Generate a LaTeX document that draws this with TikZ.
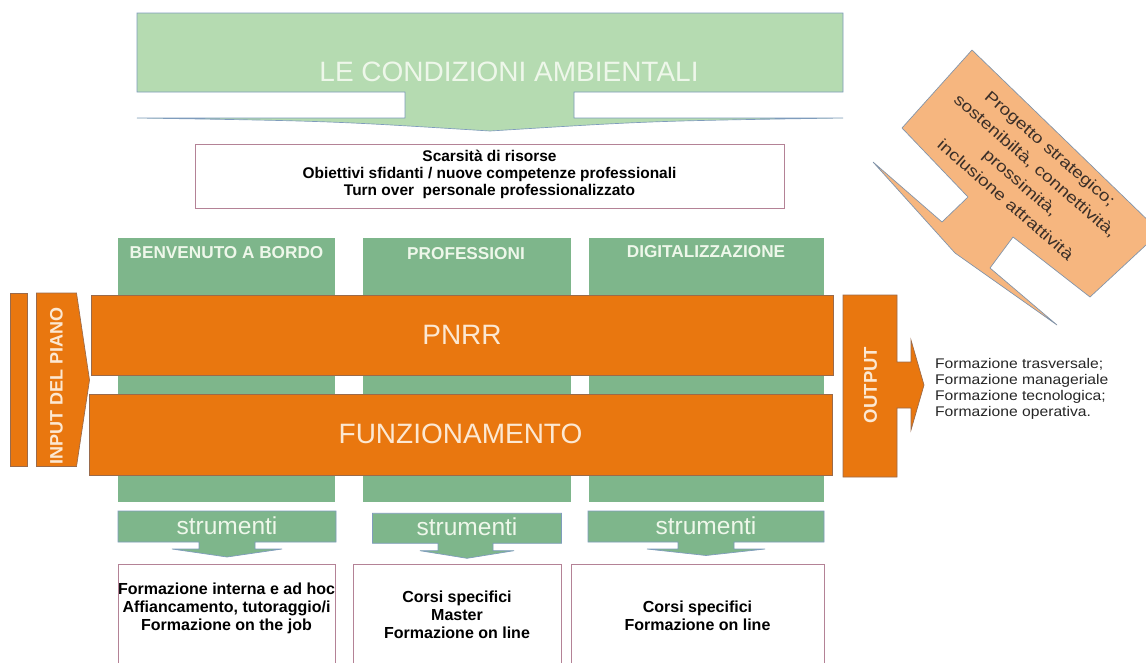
\documentclass[tikz,border=0pt]{standalone}
\usepackage{fontspec}
\setmainfont{Liberation Sans}
\newfontfamily\widesans[FakeStretch=1.12]{Liberation Sans}
\newfontfamily\callfont[FakeStretch=1.2]{Liberation Sans}
\definecolor{bannergreen}{HTML}{B5DBB1}
\definecolor{colgreen}{HTML}{7EB68B}
\definecolor{orangebar}{HTML}{E9770F}
\definecolor{calloutfill}{HTML}{F6B67F}
\definecolor{paletext}{HTML}{EEF7EA}
\definecolor{creamtext}{HTML}{FCE8D2}
\definecolor{boxborder}{HTML}{B48296}
\definecolor{edgeblue}{HTML}{7F9CBC}
\definecolor{orangeedge}{HTML}{9A6A4A}
\definecolor{darktext}{HTML}{3B2F28}
\tikzset{
  lbl/.style={inner sep=0pt, outer sep=0pt},
  colshape/.style={fill=colgreen},
  arrowshape/.style={fill=colgreen, draw=edgeblue, line width=0.5pt},
  orangeshape/.style={fill=orangebar, draw=orangeedge, line width=0.5pt},
  txtbox/.style={draw=boxborder, line width=0.6pt, fill=white},
  hdr/.style={lbl, text=paletext, font=\bfseries\fontsize{12.9}{15}\selectfont},
  bigwhite/.style={lbl, text=creamtext, font=\fontsize{21}{25}\selectfont},
  boxtext/.style={lbl, align=center, text=black, font=\bfseries\fontsize{12}{13.5}\selectfont},
  strtext/.style={lbl, text=paletext, font=\fontsize{18.4}{22}\selectfont},
  vertlbl/.style={lbl, rotate=90, text=creamtext},
}
\begin{document}
\begin{tikzpicture}[x=0.75pt,y=-0.75pt]
\useasboundingbox (0,0) rectangle (1146,662);
\clip (0,0) rectangle (1146,662);
\fill[white] (0,0) rectangle (1146,662);

% top banner arrow
\draw[fill=bannergreen, draw=edgeblue, line width=0.5pt]
  (137,13) -- (843,13) -- (843,92) -- (574,92) -- (574,118) -- (843,118)
  .. controls (650,121) .. (490,131) .. controls (330,121) .. (137,118)
  -- (405,118) -- (405,92) -- (137,92) -- cycle;
\node[lbl, text=paletext, font=\fontsize{21}{25}\selectfont] (cond) at (509,72) {LE CONDIZIONI AMBIENTALI};

% conditions box
\draw[txtbox] (195,144) rectangle (784,208);
\node[boxtext, font=\bfseries\fontsize{11.6}{12.75}\selectfont] (condlist) at (489.5,174)
  {Scarsità di risorse\\Obiettivi sfidanti / nuove competenze professionali\\Turn over\ \ personale professionalizzato};

% green columns
\path[colshape] (118,238) rectangle (335,502);
\path[colshape] (363,238) rectangle (571,502);
\path[colshape] (589,238) rectangle (824,502);
\node[hdr] (h1) at (226.5,253) {BENVENUTO A BORDO};
\node[hdr] (h2) at (466,254) {PROFESSIONI};
\node[hdr] (h3) at (706,252) {DIGITALIZZAZIONE};

% orange bars
\draw[orangeshape] (91,295) rectangle (833,375.5);
\draw[orangeshape] (89.5,394) rectangle (832,475);
\node[bigwhite] (pnrr) at (462,335) {PNRR};
\node[bigwhite] (funz) at (460.5,434) {FUNZIONAMENTO};

% input
\draw[orangeshape] (10,293) rectangle (27.5,466.5);
\draw[orangeshape] (36.5,293) -- (76.5,293) -- (89.5,380) -- (76.5,466.5) -- (36.5,466.5) -- cycle;
\node[vertlbl, font=\bfseries\fontsize{13.5}{16}\selectfont] (input) at (56.5,386) {INPUT DEL PIANO};

% output
\draw[orangeshape] (843,295) -- (897,295) -- (897,362) -- (911,362) -- (911,340) -- (924,385)
  -- (911,430) -- (911,408) -- (897,408) -- (897,477) -- (843,477) -- cycle;
\node[vertlbl, font=\bfseries\fontsize{13.9}{16}\selectfont] (output) at (870.5,385) {OUTPUT};
\node[lbl, anchor=west, align=left, text=black!85, font={\widesans\fontsize{10.5}{12}\selectfont}] (outlist) at (935,389)
  {Formazione trasversale;\\Formazione manageriale\\Formazione tecnologica;\\Formazione operativa.};

% strumenti arrows
\draw[arrowshape] (118,511) -- (336,511) -- (336,542) -- (255,542) -- (255,549) -- (282,549)
  -- (227,557) -- (172,549) -- (199,549) -- (199,542) -- (118,542) -- cycle;
\node[strtext] (s1) at (227,525.5) {strumenti};
\draw[arrowshape] (372.5,513.3) -- (561.5,513.3) -- (561.5,543.3) -- (493,543.3) -- (493,550.7) -- (514,550.7)
  -- (467,558.3) -- (420,550.7) -- (438,550.7) -- (438,543.3) -- (372.5,543.3) -- cycle;
\node[strtext] (s2) at (467,527) {strumenti};
\draw[arrowshape] (588,511) -- (824,511) -- (824,542) -- (734,542) -- (734,549) -- (765,549)
  -- (706,555.5) -- (647,549) -- (678,549) -- (678,542) -- (588,542) -- cycle;
\node[strtext] (s3) at (706,525.5) {strumenti};

% bottom boxes
\draw[txtbox] (118,564) rectangle (335,700);
\draw[txtbox] (353,564) rectangle (561,700);
\draw[txtbox] (571,564) rectangle (824,700);
\node[boxtext] (b1) at (226.5,608.5) {Formazione interna e ad hoc\\Affiancamento, tutoraggio/i\\Formazione on the job};
\node[boxtext] (b2) at (457,615) {Corsi specifici\\Master\\Formazione on line};
\node[boxtext] (b3) at (697.5,616) {Corsi specifici\\Formazione on line};

% callout
\draw[fill=calloutfill, draw=edgeblue!70!gray, line width=0.5pt]
  (972,50) -- (1160,232) -- (1090,297) -- (1013,237) -- (990,268) -- (1057,325) -- (955,253)
  -- (873,162) -- (942,222) -- (968,197) -- (902,128) -- cycle;
\node[lbl, rotate=-41, align=center, text=darktext, font={\callfont\fontsize{12}{17}\selectfont}] (proj) at (1028,174)
  {Progetto strategico;\\sostenibiltà, connettività,\\prossimità,\\inclusione attrattività};
\end{tikzpicture}
\end{document}
